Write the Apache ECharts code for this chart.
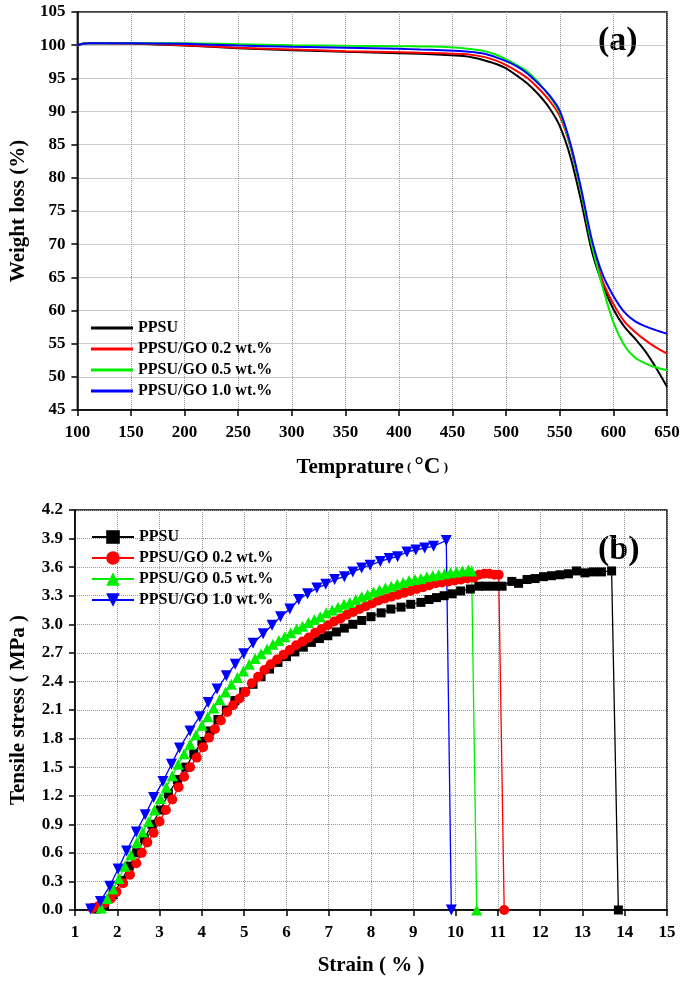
<!DOCTYPE html>
<html><head><meta charset="utf-8">
<script src="https://cdn.jsdelivr.net/npm/echarts@6/dist/echarts.min.js"></script>
<style>html,body{margin:0;padding:0;background:#fff}#c{width:685px;height:982px}</style>
</head><body><div id="c"></div>
<script>
const FONT = "'Liberation Serif','Times New Roman',serif";
const seriesNames = ['PPSU', 'PPSU/GO 0.2 wt.%', 'PPSU/GO 0.5 wt.%', 'PPSU/GO 1.0 wt.%'];
const colors = ['#000000', '#ff0000', '#00ee00', '#0000ff'];

// (a) TGA
const tgaTemp = [100,105,110,120,150,200,250,300,350,400,420,440,460,470,480,490,500,510,520,530,540,550,560,570,580,590,600,610,620,630,640,650];
const tgaPPSU = [100.0,100.2,100.3,100.3,100.25,99.95,99.55,99.25,99.0,98.8,98.7,98.55,98.35,98.1,97.7,97.2,96.5,95.4,94.2,92.6,90.6,87.8,83.1,76.4,68.9,63.9,60.2,57.6,55.8,53.8,51.3,48.5];
const tgaGO02 = [100.0,100.2,100.3,100.3,100.25,100.0,99.6,99.35,99.1,98.95,98.85,98.8,98.65,98.5,98.2,97.7,97.0,96.1,95.0,93.5,91.7,89.3,84.6,77.8,70.0,64.4,61.0,58.4,56.8,55.5,54.4,53.5];
const tgaGO05 = [100.0,100.2,100.3,100.3,100.3,100.3,100.15,100.0,99.9,99.85,99.8,99.78,99.55,99.35,99.1,98.6,97.85,97.0,96.0,94.4,92.4,89.8,84.8,77.8,69.8,63.5,58.2,54.8,52.9,52.0,51.4,51.0];
const tgaGO10 = [100.0,100.2,100.3,100.3,100.3,100.2,99.95,99.75,99.6,99.45,99.35,99.25,99.1,98.95,98.7,98.2,97.6,96.8,95.7,94.2,92.5,90.1,85.1,78.3,70.6,65.4,62.2,59.8,58.4,57.6,57.0,56.5];

// (b) Tensile
const ppsuStrain = [1.50,1.70,1.90,2.10,2.28,2.46,2.64,2.82,3.02,3.21,3.42,3.62,3.81,4.00,4.19,4.38,4.58,4.78,4.99,5.21,5.40,5.60,5.80,6.00,6.20,6.40,6.59,6.78,6.98,7.18,7.37,7.57,7.78,8.00,8.24,8.47,8.71,8.94,9.18,9.37,9.55,9.73,9.92,10.12,10.35,10.55,10.71,10.90,11.10,11.33,11.49,11.69,11.88,12.08,12.27,12.47,12.67,12.86,13.06,13.25,13.45,13.69,13.85];
const ppsuStress = [0.01,0.05,0.16,0.31,0.46,0.60,0.75,0.90,1.05,1.22,1.37,1.50,1.64,1.77,1.88,2.00,2.10,2.20,2.29,2.37,2.45,2.53,2.60,2.66,2.71,2.76,2.81,2.85,2.88,2.92,2.96,3.00,3.04,3.08,3.12,3.16,3.18,3.21,3.23,3.26,3.28,3.30,3.32,3.35,3.37,3.40,3.40,3.40,3.40,3.45,3.43,3.47,3.48,3.50,3.51,3.52,3.53,3.56,3.54,3.55,3.55,3.56,0.00];
const go02Strain = [1.41,1.55,1.70,1.85,1.98,2.14,2.30,2.45,2.58,2.71,2.86,3.00,3.15,3.30,3.45,3.58,3.72,3.88,4.03,4.17,4.31,4.45,4.60,4.74,4.89,5.03,5.18,5.33,5.48,5.63,5.78,5.93,6.08,6.23,6.38,6.53,6.68,6.83,6.98,7.13,7.28,7.43,7.58,7.73,7.88,8.03,8.18,8.33,8.48,8.63,8.78,8.93,9.08,9.23,9.38,9.53,9.68,9.83,9.98,10.13,10.28,10.43,10.55,10.68,10.80,10.92,11.02,11.15];
const go02Stress = [0.02,0.04,0.07,0.12,0.19,0.28,0.37,0.49,0.60,0.71,0.81,0.93,1.05,1.16,1.29,1.40,1.50,1.60,1.71,1.81,1.90,1.99,2.08,2.15,2.22,2.29,2.38,2.45,2.52,2.58,2.63,2.68,2.73,2.78,2.82,2.86,2.91,2.95,2.99,3.03,3.06,3.10,3.13,3.16,3.19,3.22,3.25,3.27,3.29,3.31,3.33,3.35,3.37,3.39,3.41,3.43,3.44,3.45,3.46,3.47,3.48,3.49,3.52,3.53,3.53,3.52,3.52,0.00];
const go05Strain = [1.62,1.76,1.90,2.04,2.18,2.32,2.46,2.60,2.74,2.88,3.02,3.16,3.30,3.44,3.58,3.72,3.86,4.00,4.14,4.28,4.42,4.56,4.70,4.84,4.98,5.12,5.26,5.40,5.54,5.68,5.82,5.96,6.10,6.24,6.38,6.52,6.66,6.80,6.94,7.08,7.22,7.36,7.50,7.64,7.78,7.92,8.06,8.20,8.34,8.48,8.62,8.76,8.90,9.04,9.18,9.32,9.46,9.60,9.74,9.88,10.02,10.16,10.30,10.38,10.50];
const go05Stress = [0.02,0.12,0.22,0.33,0.46,0.58,0.71,0.82,0.93,1.05,1.17,1.29,1.41,1.53,1.64,1.74,1.84,1.94,2.03,2.12,2.21,2.29,2.37,2.44,2.51,2.58,2.64,2.69,2.74,2.79,2.83,2.87,2.91,2.95,2.98,3.02,3.05,3.08,3.12,3.15,3.18,3.21,3.23,3.26,3.29,3.31,3.34,3.36,3.38,3.40,3.42,3.44,3.46,3.47,3.48,3.50,3.51,3.52,3.53,3.54,3.55,3.56,3.57,3.56,0.00];
const go10Strain = [1.37,1.60,1.82,2.02,2.22,2.45,2.66,2.86,3.08,3.28,3.47,3.72,3.95,4.15,4.36,4.58,4.79,4.99,5.21,5.45,5.66,5.86,6.08,6.29,6.50,6.72,6.93,7.14,7.37,7.57,7.78,7.98,8.22,8.43,8.63,8.85,9.06,9.27,9.48,9.78,9.90];
const go10Stress = [0.01,0.09,0.25,0.43,0.62,0.82,1.00,1.18,1.35,1.53,1.70,1.88,2.03,2.18,2.32,2.46,2.58,2.69,2.80,2.90,2.99,3.08,3.16,3.26,3.32,3.38,3.42,3.47,3.50,3.55,3.59,3.62,3.66,3.69,3.71,3.76,3.78,3.80,3.82,3.88,0.00];

const tgaSets = [tgaPPSU, tgaGO02, tgaGO05, tgaGO10];
const strainSets = [ppsuStrain, go02Strain, go05Strain, go10Strain];
const stressSets = [ppsuStress, go02Stress, go05Stress, go10Stress];
const symbols = ['rect', 'circle', 'triangle', 'triangle'];
const symbolRot = [0, 0, 0, 180];
const symbolSizes = [9, 10, 11, 11];
const bNames = seriesNames.map(n => n + '\u00a0');

const lbl = {color: '#000', fontFamily: FONT, fontWeight: 'bold', fontSize: 17};
function axisBase(extra) {
  return Object.assign({
    type: 'value',
    axisLine: {show: true, onZero: false, lineStyle: {color: '#000', width: 1.5}},
    axisTick: {show: true, inside: false, length: 6, lineStyle: {color: '#000', width: 1.5}},
    axisLabel: Object.assign({}, lbl),
    splitLine: {show: true, lineStyle: {type: 'dotted', color: '#999', width: 1}},
    nameLocation: 'middle',
    nameTextStyle: {color: '#000', fontFamily: FONT, fontWeight: 'bold', fontSize: 21}
  }, extra);
}

const series = [];
tgaSets.forEach((arr, i) => {
  series.push({
    name: seriesNames[i], type: 'line', xAxisIndex: 0, yAxisIndex: 0,
    data: tgaTemp.map((t, k) => [t, arr[k]]),
    smooth: 0.3, symbol: 'none', showSymbol: false,
    lineStyle: {color: colors[i], width: 2}, itemStyle: {color: colors[i]}
  });
});
strainSets.forEach((arr, i) => {
  series.push({
    name: bNames[i], type: 'line', xAxisIndex: 1, yAxisIndex: 1,
    data: arr.map((s, k) => [s, stressSets[i][k]]),
    symbol: symbols[i], symbolRotate: symbolRot[i], symbolSize: symbolSizes[i],
    showAllSymbol: true, clip: false,
    lineStyle: {color: colors[i], width: 1.3}, itemStyle: {color: colors[i]}
  });
});

const option = {
  animation: false,
  backgroundColor: '#fff',
  grid: [
    {left: 70, top: 12, width: 597, height: 398, show: true, borderColor: '#000', borderWidth: 1.5},
    {left: 72, top: 510, width: 595, height: 400, show: true, borderColor: '#000', borderWidth: 1.5}
  ],
  xAxis: [
    axisBase({gridIndex: 0, min: 100, max: 650, interval: 50, nameGap: 46,
      name: '{a|Temprature}{b| ( }{c|°C}{b| )}',
      nameTextStyle: {rich: {
        a: {fontFamily: FONT, fontWeight: 'bold', fontSize: 21, color: '#000'},
        b: {fontFamily: FONT, fontWeight: 'bold', fontSize: 13, color: '#000'},
        c: {fontFamily: FONT, fontWeight: 'bold', fontSize: 23, color: '#000'}
      }},
      axisLabel: Object.assign({}, lbl, {margin: 14})}),
    axisBase({gridIndex: 1, min: 1, max: 15, interval: 1, nameGap: 45,
      name: 'Strain ( % )', axisLabel: Object.assign({}, lbl, {margin: 14})})
  ],
  yAxis: [
    axisBase({gridIndex: 0, min: 45, max: 105, interval: 5, nameGap: 44,
      name: 'Weight loss (%)', axisLabel: Object.assign({}, lbl, {margin: 12})}),
    axisBase({gridIndex: 1, min: 0, max: 4.2, interval: 0.3, nameGap: 46,
      name: 'Tensile stress ( MPa )',
      axisLabel: Object.assign({}, lbl, {margin: 12, formatter: v => v.toFixed(1)})})
  ],
  legend: [
    {data: seriesNames, left: 86, top: 315, orient: 'vertical', itemGap: 5, itemWidth: 42, itemHeight: 3,
     icon: 'rect', selectedMode: false,
     textStyle: {color: '#000', fontFamily: FONT, fontWeight: 'bold', fontSize: 16}},
    {data: bNames, left: 86, top: 524, orient: 'vertical', itemGap: 5, itemWidth: 42, itemHeight: 17,
     selectedMode: false, textStyle: {color: '#000', fontFamily: FONT, fontWeight: 'bold', fontSize: 16}}
  ],
  graphic: [
    {type: 'text', left: 598, top: 24, style: {text: '(a)', font: 'bold 34px ' + FONT, fill: '#000'}},
    {type: 'text', left: 598, top: 533, style: {text: '(b)', font: 'bold 34px ' + FONT, fill: '#000'}}
  ],
  series: series
};
const chart = echarts.init(document.getElementById('c'), null, {renderer: 'canvas'});
chart.setOption(option);
</script>
</body></html>
